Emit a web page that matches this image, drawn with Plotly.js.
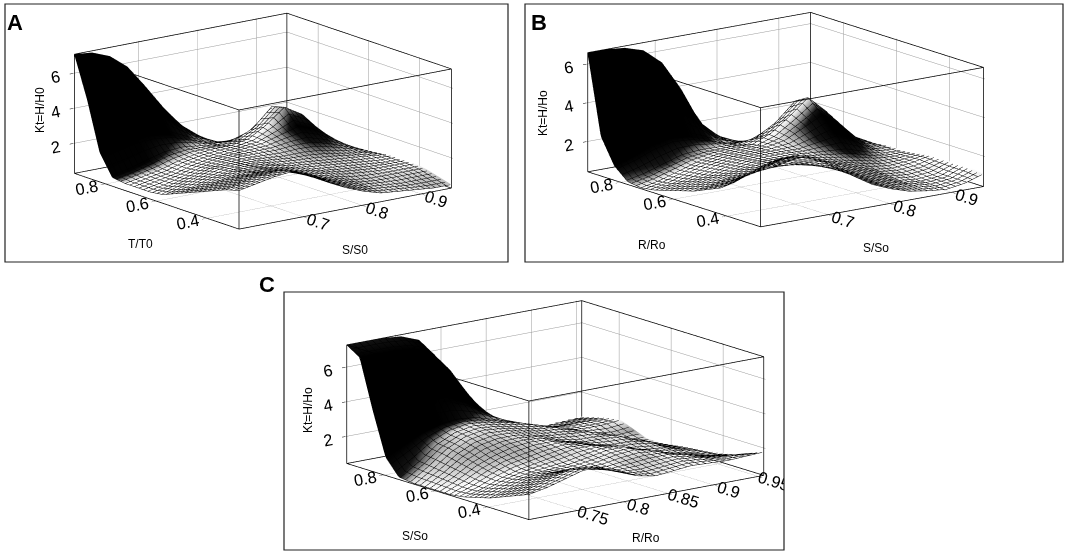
<!DOCTYPE html>
<html><head><meta charset="utf-8">
<script src="https://cdn.plot.ly/plotly-3.0.1.min.js"></script>
<style>html,body{margin:0;padding:0;background:#fff}#chart{width:1065px;height:553px}#err{position:absolute;left:300px;top:150px;font:14px sans-serif;color:red}</style>
</head><body><div id="chart"></div><div id="err"></div>
<script>
window.onerror = function(m){ document.getElementById('err').textContent += ' onerror:' + m; };
// ---------- Panel A : Kt = H/H0 vs S/S0 and T/T0 ----------
const sA = [0.59,0.62,0.65,0.68,0.71,0.74,0.77,0.80,0.83,0.86,0.89,0.92,0.95];
const tA = [0.27,0.32,0.37,0.42,0.47,0.52,0.57,0.62,0.67,0.72,0.77,0.82,0.87,0.92];
const zA = [
 [2.5,2.7,2.9,3.0,2.6,2.0,1.5,1.1,0.8,0.7,0.6,0.5,0.5],
 [2.3,2.5,2.7,2.8,2.5,2.0,1.6,1.2,0.9,0.8,0.7,0.7,0.7],
 [2.0,2.2,2.4,2.5,2.3,2.0,1.6,1.3,1.0,0.9,0.9,0.9,0.9],
 [1.7,1.9,2.1,2.2,2.1,1.9,1.6,1.4,1.2,1.1,1.0,1.0,1.0],
 [1.4,1.6,1.8,2.0,2.0,1.8,1.6,1.4,1.3,1.2,1.1,1.0,1.0],
 [1.1,1.3,1.6,1.8,1.9,1.8,1.6,1.5,1.4,1.3,1.2,1.1,1.0],
 [0.8,1.1,1.4,1.7,1.8,1.8,1.7,1.6,1.6,1.5,1.3,1.1,0.9],
 [0.7,0.9,1.2,1.5,1.7,1.8,1.8,1.8,1.9,1.9,1.6,1.2,0.8],
 [0.7,0.9,1.1,1.4,1.6,1.7,1.8,1.9,2.2,2.5,2.1,1.4,0.7],
 [0.7,0.9,1.1,1.4,1.6,1.7,1.7,1.9,2.5,3.3,2.7,1.6,0.6],
 [0.8,1.0,1.3,1.6,1.7,1.6,1.5,1.6,2.1,3.1,2.5,1.4,0.5],
 [2.0,2.2,2.4,2.4,2.2,1.8,1.4,1.2,1.3,1.8,1.6,1.0,0.5],
 [4.8,4.8,4.6,4.1,3.3,2.4,1.6,1.0,0.7,0.8,0.8,0.7,0.6],
 [7.1,7.0,6.6,5.8,4.5,3.1,1.9,1.1,0.5,0.3,0.4,0.6,0.8]
];
const ticksSA = [0.7,0.8,0.9];
const ticksTA = [0.4,0.6,0.8];

// ---------- Panel B : Kt = H/Ho vs S/So and R/Ro ----------
const sB = [0.59,0.62,0.65,0.68,0.71,0.74,0.77,0.80,0.83,0.86,0.89,0.92,0.95];
const rB = [0.27,0.32,0.37,0.42,0.47,0.52,0.57,0.62,0.67,0.72,0.77,0.82,0.87,0.92];
const zB = [
 [3.4,3.8,3.8,3.5,3.0,2.2,1.6,1.2,0.9,0.75,0.65,0.8,1.1],
 [2.9,3.3,3.4,3.3,2.9,2.3,1.7,1.3,1.0,0.8,0.7,0.8,1.2],
 [2.3,2.7,2.9,2.9,2.6,2.2,1.8,1.4,1.1,0.8,0.7,0.8,1.2],
 [1.8,2.1,2.3,2.4,2.3,2.1,1.8,1.5,1.2,0.9,0.8,0.9,1.2],
 [1.5,1.7,1.9,2.0,2.1,2.0,1.8,1.6,1.3,1.0,0.9,1.0,1.2],
 [1.2,1.4,1.6,1.8,1.9,1.9,1.8,1.6,1.4,1.2,1.0,1.0,1.1],
 [1.0,1.2,1.4,1.6,1.8,1.8,1.8,1.7,1.6,1.5,1.2,1.0,1.0],
 [0.8,1.0,1.2,1.5,1.7,1.8,1.8,1.8,2.0,2.2,1.7,1.1,1.0],
 [0.6,0.8,1.1,1.4,1.6,1.7,1.8,2.0,2.5,3.0,2.3,1.3,0.9],
 [0.5,0.7,1.0,1.3,1.5,1.6,1.7,2.1,2.8,3.6,2.7,1.4,0.9],
 [0.6,0.8,1.1,1.4,1.5,1.5,1.5,1.7,2.3,3.2,2.3,1.3,0.9],
 [1.2,1.5,1.9,2.1,2.0,1.7,1.3,1.2,1.4,1.9,1.6,1.1,0.9],
 [2.5,2.9,3.4,3.7,3.4,2.5,1.5,1.0,0.8,0.9,0.9,0.9,0.9],
 [6.6,6.6,6.5,6.2,5.4,3.9,2.0,1.1,0.65,0.5,0.6,0.8,0.9]
];
const ticksSB = [0.7,0.8,0.9];
const ticksRB = [0.4,0.6,0.8];

// ---------- Panel C : Kt = H/Ho vs R/Ro and S/So ----------
const rC = [0.695,0.715,0.735,0.755,0.775,0.795,0.815,0.835,0.855,0.875,0.895,0.915,0.935,0.955];
const sC = [0.24,0.29,0.34,0.39,0.44,0.49,0.54,0.59,0.64,0.69,0.74,0.79,0.84,0.89,0.94];
const zC = [
 [1.9,2.1,2.4,2.7,2.7,2.2,1.8,1.6,1.7,1.8,1.75,1.7,1.75,1.8],
 [1.6,1.9,2.2,2.5,2.5,2.1,1.8,1.7,1.8,1.9,1.8,1.6,1.6,1.5],
 [1.3,1.6,1.9,2.1,2.1,1.9,1.8,1.9,2.0,2.0,1.8,1.5,1.3,1.2],
 [1.0,1.3,1.6,1.8,1.8,1.8,1.9,2.1,2.2,2.0,1.6,1.3,1.1,1.0],
 [0.8,1.1,1.4,1.6,1.7,1.8,2.0,2.2,2.2,1.8,1.4,1.2,1.0,0.9],
 [0.6,0.9,1.3,1.6,1.8,2.0,2.2,2.2,2.0,1.6,1.4,1.3,1.0,0.8],
 [0.5,0.9,1.4,1.8,2.0,2.2,2.3,2.1,1.8,1.6,1.6,1.4,0.9,0.7],
 [0.5,1.0,1.6,2.0,2.3,2.4,2.3,2.0,1.8,1.8,1.7,1.3,0.8,0.6],
 [0.5,1.1,1.8,2.3,2.5,2.5,2.3,2.1,2.0,1.9,1.6,1.1,0.7,0.5],
 [0.5,1.2,2.0,2.5,2.7,2.6,2.4,2.2,2.1,1.8,1.4,1.0,0.6,0.5],
 [0.6,1.3,2.1,2.6,2.8,2.7,2.5,2.3,2.0,1.6,1.2,0.9,0.7,0.8],
 [1.5,2.0,2.5,2.8,2.9,2.8,2.5,2.2,1.8,1.4,1.1,1.0,1.0,1.1],
 [4.0,4.1,4.2,4.2,4.0,3.5,2.8,2.1,1.5,1.2,1.0,1.0,1.0,1.0],
 [6.8,6.8,6.8,6.7,6.3,5.1,3.5,2.1,1.2,0.8,0.7,0.7,0.8,0.8],
 [7.3,7.3,7.3,7.2,6.8,5.4,3.6,2.0,1.1,0.6,0.5,0.5,0.55,0.6]
];
const ticksRC = [0.75,0.8,0.85,0.9,0.95];
const ticksSC = [0.4,0.6,0.8];
const ticksZ = [2,4,6];

// ---------- helpers ----------
const W = 1065, H = 553;
const FONT = 'Liberation Sans, Arial, Helvetica, sans-serif';
function px(x){return x/W;}
function py(y){return 1-y/H;}

// shading (MATLAB-like lit faces): brightness from the surface normal in box units
function shade(xs, ys, z, xr, yr, zr, asp){
  const L = [-0.1, 0.6, 0.8]; const ln = Math.hypot(L[0],L[1],L[2]);
  const kx = asp[0]/(xr[1]-xr[0]), ky = asp[1]/(yr[1]-yr[0]), kz = asp[2]/(zr[1]-zr[0]);
  const out = [];
  for(let i=0;i<ys.length;i++){
    const row=[];
    for(let j=0;j<xs.length;j++){
      const j0=Math.max(0,j-1), j1=Math.min(xs.length-1,j+1);
      const i0=Math.max(0,i-1), i1=Math.min(ys.length-1,i+1);
      const gx = (z[i][j1]-z[i][j0])*kz/((xs[j1]-xs[j0])*kx);
      const gy = (z[i1][j]-z[i0][j])*kz/((ys[i1]-ys[i0])*ky);
      const nn = Math.hypot(gx,gy,1);
      const d = (-gx*L[0] - gy*L[1] + L[2])/(nn*ln);
      row.push(Math.max(0, Math.min(1, (d-0.4)/0.36)));
    }
    out.push(row);
  }
  return out;
}

function surf(x, y, z, xr, yr, zr, asp, scene, dx, dy){
  return {
    type:'surface', x:x, y:y, z:z, scene:scene,
    surfacecolor: shade(x, y, z, xr, yr, zr, asp), cmin:0, cmax:1,
    colorscale:[[0,'#000000'],[0.3,'#141414'],[0.65,'#9a9a9a'],[1,'#ffffff']], showscale:false,
    lighting:{ambient:1.0, diffuse:0.0, specular:0.0, roughness:1.0, fresnel:0.0},
    hoverinfo:'skip',
    contours:{
      x:{show:true, start:x[0], end:x[x.length-1], size:dx, color:'#000', width:1},
      y:{show:true, start:y[0], end:y[y.length-1], size:dy, color:'#000', width:1}
    }
  };
}
// full MATLAB-style box built from the axis ranges
function box(xr, yr, zr, scene){
  const X=[],Y=[],Z=[];
  const seg=(a,b)=>{X.push(a[0],b[0],null);Y.push(a[1],b[1],null);Z.push(a[2],b[2],null);};
  for(const zz of zr){ seg([xr[0],yr[0],zz],[xr[1],yr[0],zz]); seg([xr[0],yr[1],zz],[xr[1],yr[1],zz]);
                       seg([xr[0],yr[0],zz],[xr[0],yr[1],zz]); seg([xr[1],yr[0],zz],[xr[1],yr[1],zz]); }
  for(const xx of xr) for(const yy of yr) seg([xx,yy,zr[0]],[xx,yy,zr[1]]);
  return {type:'scatter3d', mode:'lines', x:X, y:Y, z:Z, scene:scene, connectgaps:false,
          line:{color:'#000', width:1.5}, hoverinfo:'skip', showlegend:false};
}
function pad(r){ const e=(r[1]-r[0])*0.004; return [r[0]-e, r[1]+e]; }
function ax(range, ticks){
  return {
    title:{text:''},
    range:pad(range), tickmode:'array', tickvals:ticks, ticktext:ticks.map(String),
    tickfont:{family:FONT, size:14, color:'#000'},
    showgrid:true, gridcolor:'#999999', gridwidth:1,
    showline:false, mirror:false,
    showbackground:false, zeroline:false, showspikes:false,
    ticks:'inside', ticklen:4, tickcolor:'#000'
  };
}
function scene(dom, xr, xtk, yr, ytk, zr, asp, dir, ctr){
  const L = 4;
  return {
    domain:{x:[px(dom[0]),px(dom[1])], y:[py(dom[3]),py(dom[2])]},
    xaxis:ax(xr,xtk), yaxis:ax(yr,ytk), zaxis:ax(zr,ticksZ),
    aspectmode:'manual', aspectratio:{x:asp[0], y:asp[1], z:asp[2]},
    camera:{eye:{x:ctr[0]+dir[0]*L, y:ctr[1]+dir[1]*L, z:ctr[2]+dir[2]*L}, center:{x:ctr[0],y:ctr[1],z:ctr[2]},
            up:{x:0,y:0,z:1}, projection:{type:'orthographic'}}
  };
}
function label(text, x, y, angle){
  return {text:text, xref:'paper', yref:'paper', x:px(x), y:py(y), xanchor:'center', yanchor:'middle',
          showarrow:false, textangle:angle||0, font:{family:FONT, size:12, color:'#000'}};
}

const rgA = {x:[0.59,0.95], y:[0.27,0.92], z:[0.3,7.1]};
const rgB = {x:[0.59,0.95], y:[0.27,0.92], z:[0.45,6.6]};
const rgC = {x:[0.695,0.955], y:[0.24,0.94], z:[0.45,7.3]};
const aspA = [2.08,2.134,0.963], aspB = [2.18,2.245,0.959], aspC = [2.33,2.31,0.955];

const data = [
  surf(sA, tA, zA, rgA.x, rgA.y, rgA.z, aspA, 'scene', 0.009, 0.018),
  surf(sB, rB, zB, rgB.x, rgB.y, rgB.z, aspB, 'scene2', 0.009, 0.018),
  surf(rC, sC, zC, rgC.x, rgC.y, rgC.z, aspC, 'scene3', 0.007, 0.019),
  box(rgA.x, rgA.y, rgA.z, 'scene'), box(rgB.x, rgB.y, rgB.z, 'scene2'), box(rgC.x, rgC.y, rgC.z, 'scene3')
];

const layout = {
  width:W, height:H, margin:{l:0,r:0,t:0,b:0}, paper_bgcolor:'#fff',
  showlegend:false, hovermode:false, font:{family:FONT, color:'#000'},
  scene: scene([5,508,4,262], rgA.x,ticksSA, rgA.y,ticksTA, rgA.z,
               aspA, [-0.583,-0.772,0.256], [-0.040,0.030,-0.095]),
  scene2: scene([525,1063,4,262], rgB.x,ticksSB, rgB.y,ticksRB, rgB.z,
               aspB, [-0.585,-0.776,0.240], [0.052,-0.039,-0.107]),
  scene3: scene([284,784,292,550], rgC.x,ticksRC, rgC.y,ticksSC, rgC.z,
               aspC, [-0.598,-0.765,0.241], [-0.130,0.102,-0.087]),
  shapes:[
    {type:'rect', xref:'paper', yref:'paper', x0:px(5), x1:px(508), y0:py(262), y1:py(4), line:{color:'#222', width:1.2}},
    {type:'rect', xref:'paper', yref:'paper', x0:px(525), x1:px(1063), y0:py(262), y1:py(4), line:{color:'#222', width:1.2}},
    {type:'rect', xref:'paper', yref:'paper', x0:px(284), x1:px(784), y0:py(550), y1:py(292), line:{color:'#222', width:1.2}}
  ],
  annotations:[
    {text:'<b>A</b>', xref:'paper', yref:'paper', x:px(5), y:py(8), xanchor:'left', yanchor:'top', showarrow:false, font:{family:FONT, size:22, color:'#000'}},
    {text:'<b>B</b>', xref:'paper', yref:'paper', x:px(529), y:py(8), xanchor:'left', yanchor:'top', showarrow:false, font:{family:FONT, size:22, color:'#000'}},
    {text:'<b>C</b>', xref:'paper', yref:'paper', x:px(257), y:py(270), xanchor:'left', yanchor:'top', showarrow:false, font:{family:FONT, size:22, color:'#000'}},
    label('T/T0', 140, 244), label('S/S0', 355, 250), label('Kt=H/H0', 40, 110, -90),
    label('R/Ro', 652, 245), label('S/So', 876, 248), label('Kt=H/Ho', 543, 113, -90),
    label('S/So', 415, 536), label('R/Ro', 646, 538), label('Kt=H/Ho', 308, 410, -90)
  ]
};

Plotly.newPlot('chart', data, layout, {displayModeBar:false}).catch(function(e){ document.getElementById('err').textContent += ' ERR:' + e; });
</script></body></html>
